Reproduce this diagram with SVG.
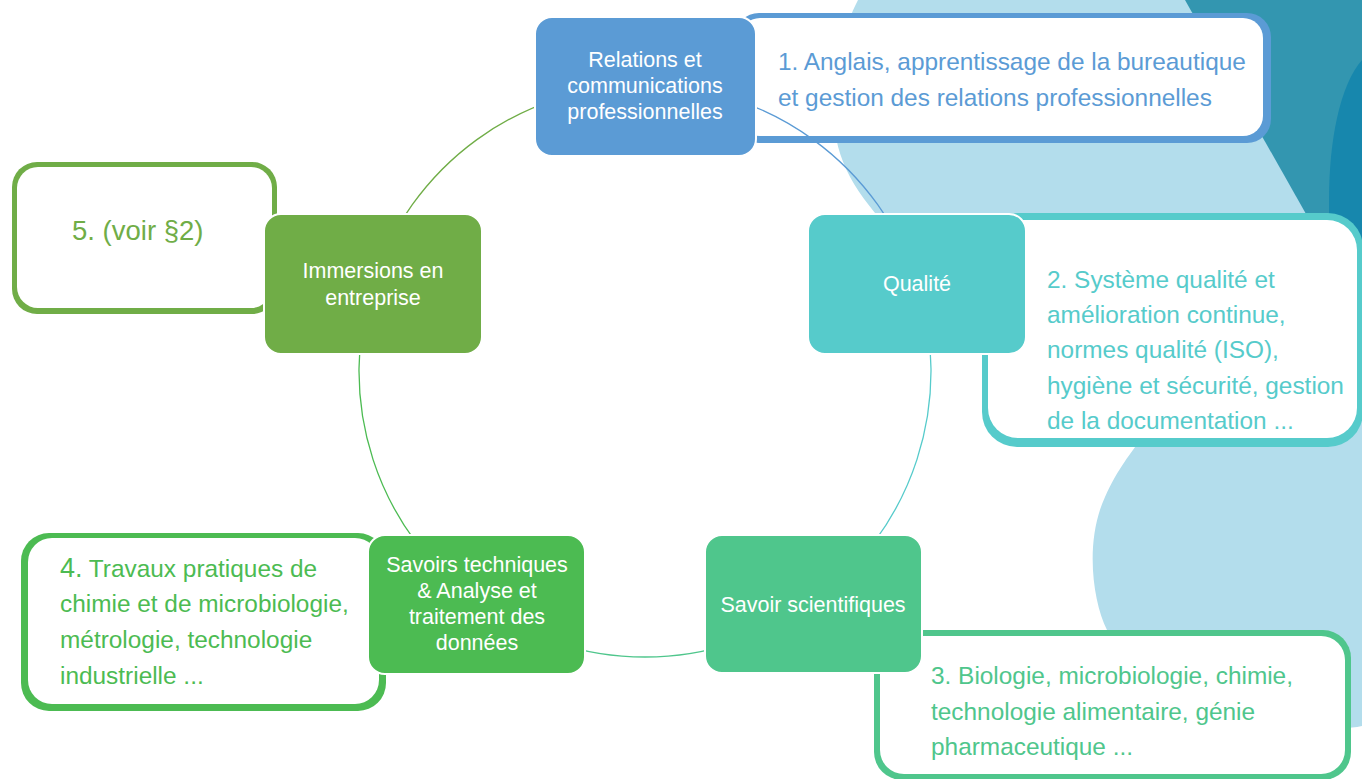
<svg xmlns="http://www.w3.org/2000/svg" width="1362" height="779" viewBox="0 0 1362 779">
<style>
.ntxt{fill:#ffffff;font-family:"Liberation Sans",Arial,sans-serif;font-size:21.5px;text-anchor:middle}
.ctxt{font-family:"Liberation Sans",Arial,sans-serif;font-size:24.4px}
.node{stroke:#ffffff;stroke-width:2}
.arc{fill:none;stroke-width:1.3}
</style>
<rect width="1362" height="779" fill="#ffffff"/>
<g id="background">
<path d="M858 0 L1362 0 L1362 726 C1300 740 1200 680 1120 650 L1107 630 C1092 600 1085 540 1105 497 C1118 468 1132 452 1140 440 L905 245 C870 210 840 175 835 130 C832 80 842 30 858 0 Z" fill="#b3ddec"/>
<path d="M1185 0 L1362 0 L1362 260 L1332 260 Z" fill="#3396b0"/>
<path d="M1362 60 C1340 85 1329 140 1329 200 L1329 260 L1362 260 Z" fill="#1787ad"/>
</g>
<g id="callout1">
<rect x="735" y="13" width="536" height="130" rx="24" fill="#5b9bd5"/>
<rect x="740" y="18" width="523" height="118" rx="20" fill="#ffffff"/>
<text class="ctxt" fill="#5b9bd5"><tspan x="778" y="70">1. Anglais, apprentissage de la bureautique</tspan><tspan x="778" y="106">et gestion des relations professionnelles</tspan></text>
</g>
<g id="callout2">
<rect x="982" y="213" width="381" height="234" rx="35" fill="#56cbcb"/>
<rect x="988" y="220" width="369" height="218" rx="30" fill="#ffffff"/>
<text class="ctxt" fill="#56cbcb"><tspan x="1047" y="288">2. Système qualité et</tspan><tspan x="1047" y="323">amélioration continue,</tspan><tspan x="1047" y="358">normes qualité (ISO),</tspan><tspan x="1047" y="394">hygiène et sécurité, gestion</tspan><tspan x="1047" y="429">de la documentation ...</tspan></text>
</g>
<g id="callout3">
<rect x="874" y="630" width="477" height="150" rx="28" fill="#4fc68c"/>
<rect x="880" y="636" width="465" height="138" rx="24" fill="#ffffff"/>
<text class="ctxt" fill="#4fc68c"><tspan x="931" y="684">3. Biologie, microbiologie, chimie,</tspan><tspan x="931" y="720">technologie alimentaire, génie</tspan><tspan x="931" y="755">pharmaceutique ...</tspan></text>
</g>
<g id="callout4">
<rect x="21" y="533" width="365" height="178" rx="28" fill="#4cbb52"/>
<rect x="28" y="538" width="351" height="166" rx="24" fill="#ffffff"/>
<text class="ctxt" fill="#4cbb52"><tspan x="60" y="577" style="font-size:27px">4.</tspan><tspan> Travaux pratiques de</tspan><tspan x="60" y="612">chimie et de microbiologie,</tspan><tspan x="60" y="648">métrologie, technologie</tspan><tspan x="60" y="684">industrielle ...</tspan></text>
</g>
<g id="callout5">
<rect x="12" y="162" width="265" height="152" rx="25" fill="#70ad47"/>
<rect x="17" y="167" width="255" height="141" rx="21" fill="#ffffff"/>
<text class="ctxt" fill="#70ad47" x="72" y="240" style="font-size:27.5px">5. (voir §2)</text>
</g>
<g id="connectors">
<path class="arc" stroke="#5b9bd5" d="M645 85 A286 286 0 0 1 917 282.6"/>
<path class="arc" stroke="#56cbcb" d="M917 282.6 A286 286 0 0 1 813.1 602.4"/>
<path class="arc" stroke="#4fc68c" d="M813.1 602.4 A286 286 0 0 1 476.9 602.4"/>
<path class="arc" stroke="#4cbb52" d="M476.9 602.4 A286 286 0 0 1 373 282.6"/>
<path class="arc" stroke="#70ad47" d="M373 282.6 A286 286 0 0 1 645 85"/>
</g>
<g id="node-relations">
<rect class="node" x="535" y="17" width="221" height="139" rx="17" fill="#5b9bd5"/>
<text class="ntxt"><tspan x="645" y="67">Relations et</tspan><tspan x="645" y="93">communications</tspan><tspan x="645" y="119">professionnelles</tspan></text>
</g>
<g id="node-qualite">
<rect class="node" x="808" y="214" width="218" height="140" rx="17" fill="#56cbcb"/>
<text class="ntxt" x="917" y="291">Qualité</text>
</g>
<g id="node-savoir-scientifiques">
<rect class="node" x="705" y="535" width="217" height="138" rx="17" fill="#4fc68c"/>
<text class="ntxt" x="813" y="612">Savoir scientifiques</text>
</g>
<g id="node-savoirs-techniques">
<rect class="node" x="368" y="535" width="217" height="139" rx="17" fill="#4cbb52"/>
<text class="ntxt"><tspan x="477" y="572">Savoirs techniques</tspan><tspan x="477" y="598">&amp; Analyse et</tspan><tspan x="477" y="624">traitement des</tspan><tspan x="477" y="650">données</tspan></text>
</g>
<g id="node-immersions">
<rect class="node" x="264" y="214" width="218" height="140" rx="17" fill="#70ad47"/>
<text class="ntxt"><tspan x="373" y="278">Immersions en</tspan><tspan x="373" y="305">entreprise</tspan></text>
</g>
</svg>
